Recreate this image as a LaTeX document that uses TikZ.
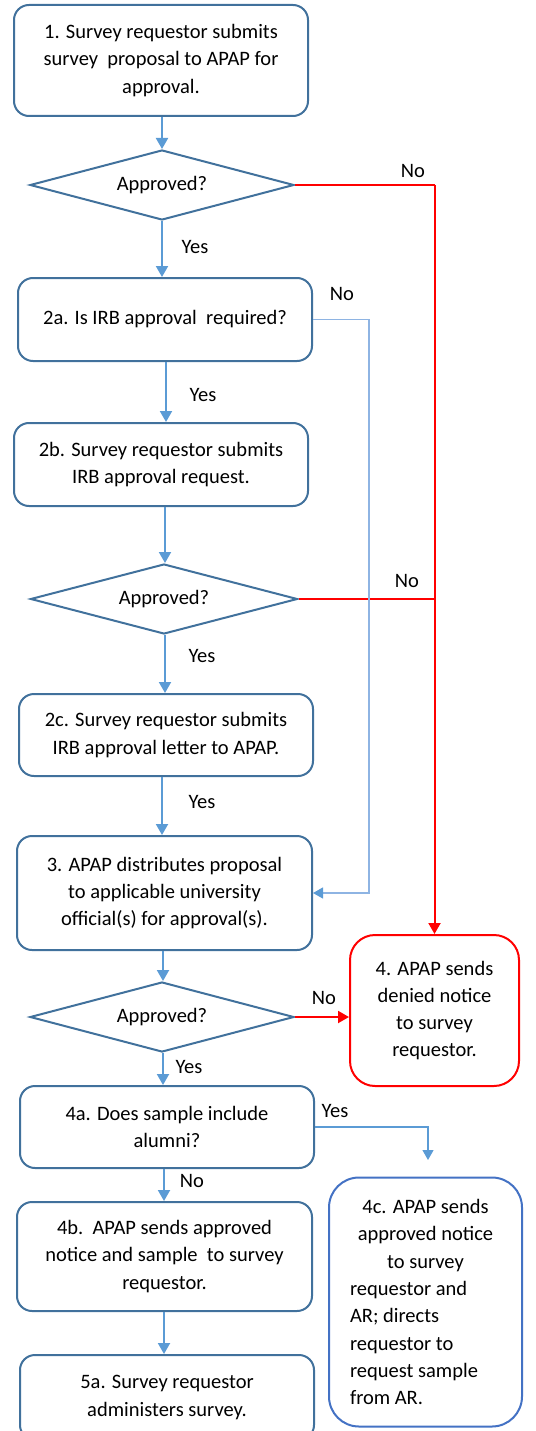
\documentclass[tikz,border=0pt]{standalone}
\usepackage{fontspec}
\setmainfont{Carlito}
\usetikzlibrary{calc, arrows.meta, shapes.geometric}
\definecolor{boxline}{HTML}{41719C}
\definecolor{flowblue}{HTML}{5B9BD5}
\definecolor{paleblue}{HTML}{8EB4E3}
\definecolor{notebox}{HTML}{4472C4}
\definecolor{denyred}{HTML}{FF0000}

\begin{document}
\begin{tikzpicture}[x=1pt, y=-1pt,
  txt/.style={font=\fontsize{20.5}{27.3}\selectfont},
  stepbox/.style={txt, draw=boxline, line width=2pt, rounded corners=15pt, align=center, inner sep=0pt},
  decide/.style={txt, diamond, draw=boxline, line width=2pt, aspect=3.8, inner sep=0pt, minimum height=70pt},
  flow/.style={flowblue, line width=2pt, -{Triangle[width=12pt,length=11pt]}},
  deny/.style={denyred, line width=2pt, -{Triangle[width=12pt,length=11pt]}},
  denythin/.style={draw=denyred, line width=1.4pt},
  side/.style={line width=1.2pt, -{Triangle[width=11pt,length=10pt,color=flowblue]}},
  lbl/.style={txt, anchor=base, inner sep=0pt}]
  \clip (0,0) rectangle (535,1431);
  % main column
  \node[stepbox, minimum width=294pt, minimum height=111pt] (s1) at (161,60.5) {1. Survey requestor submits\\survey\ \ proposal to APAP for\\approval.};
  \node[decide, minimum width=264pt] (d1) at (162,185) {Approved?};
  \node[stepbox, minimum width=294pt, minimum height=83pt] (s2a) at (165,319.5) {2a. Is IRB approval\ \ required?};
  \node[stepbox, minimum width=294pt, minimum height=83pt] (s2b) at (161,464.5) {2b. Survey requestor submits\\IRB\ approval request.};
  \node[decide, minimum width=267pt] (d2) at (164,599) {Approved?};
  \node[stepbox, minimum width=294pt, minimum height=82pt] (s2c) at (166,735) {2c. Survey requestor submits\\IRB approval letter to APAP.};
  \node[stepbox, minimum width=295pt, minimum height=114pt] (s3) at (164.5,893) {3. APAP distributes proposal\\to applicable university\\official(s) for approval(s).};
  \node[decide, minimum width=264pt] (d3) at (162,1017) {Approved?};
  \node[stepbox, minimum width=294pt, minimum height=82pt] (s4a) at (167,1127) {4a. Does sample include\\alumni?};
  \node[stepbox, minimum width=295pt, minimum height=109pt] (s4b) at (164.5,1256.5) {4b.\ \ APAP sends approved\\notice and sample\ \ to survey\\requestor.};
  \node[stepbox, minimum width=294pt, minimum height=85pt] (s5a) at (167,1397.5) {5a. Survey requestor\\administers survey.};
  % right column
  \node[stepbox, draw=denyred, rounded corners=25pt, minimum width=169pt, minimum height=151pt] (s4) at (434.5,1010.5) {4. APAP sends\\denied notice\\to survey\\requestor.};
  \node[stepbox, draw=notebox, rounded corners=30pt, minimum width=193pt, minimum height=249pt, text width=151pt, align=flush left] (s4c) at (425.5,1302) {\makebox[151pt][c]{4c. APAP sends}\\\makebox[151pt][c]{approved notice}\\\makebox[151pt][c]{to survey}\\requestor and\\AR; directs\\requestor to\\request sample\\from AR.};
  % downward arrows
  \foreach \a/\b/\xx in {s1/d1/162, d1/s2a/162, s2a/s2b/166, s2b/d2/165, d2/s2c/165, s2c/s3/162, s3/d3/163, d3/s4a/163, s4a/s4b/164, s4b/s5a/164}
    \draw[flow] (\xx,0 |- \a.south) -- (\xx,0 |- \b.north);
  % denied branch
  \coordinate (rtop) at (s4.north |- d1.east);
  \coordinate (rmid) at (s4.north |- d2.east);
  \draw[denythin] (d1.east) -- (rtop);
  \draw[denythin] (d2.east) -- (rmid);
  \draw[deny] (rtop) -- (s4.north);
  \draw[deny] (d3.east) -- (s4.west |- d3.east);
  % no IRB needed
  \draw[side, paleblue] (s2a.east) -- ++(56,0) |- (s3.east);
  % alumni
  \coordinate (alum) at (428,1160);
  \draw[side, flowblue] (s4a.east) -| (alum);
  \foreach \t/\x/\y [count=\i] in {No/413/178, Yes/195/254, No/342/300, Yes/203/401, No/407/587, Yes/202/662, Yes/202/808, No/324/1004, Yes/189/1073, Yes/335/1117, No/192/1187}
    \node[lbl] (lab\i) at (\x,\y) {\t};
\end{tikzpicture}
\end{document}
